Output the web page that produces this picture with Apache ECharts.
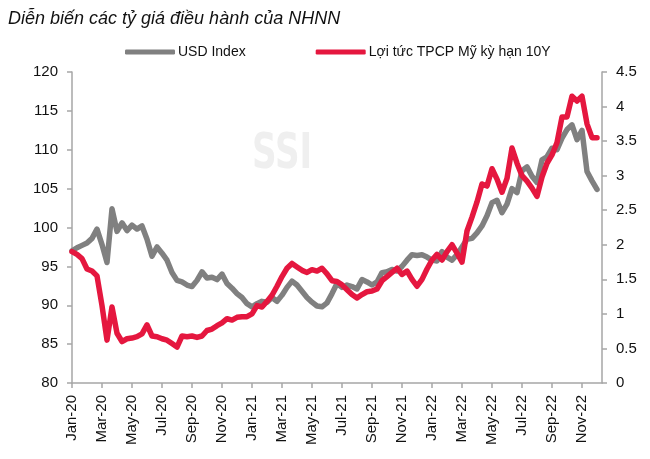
<!DOCTYPE html>
<html>
<head>
<meta charset="utf-8">
<script src="https://cdn.jsdelivr.net/npm/echarts@6/dist/echarts.min.js"></script>
<style>
html,body{margin:0;padding:0;background:#fff;}
#c{width:650px;height:459px;}
</style>
</head>
<body>
<div id="c"></div>
<script>
// Tick labels shown every 2 months
var tickLabels = ['Jan-20','Mar-20','May-20','Jul-20','Sep-20','Nov-20','Jan-21','Mar-21','May-21','Jul-21','Sep-21','Nov-21','Jan-22','Mar-22','May-22','Jul-22','Sep-22','Nov-22'];
// Categories: three observations per month (1st, 11th, 21st), Jan 2020 – Dec 2022
var categories = [];
(function(){
  var days = ['01','11','21'];
  for (var y = 2020; y <= 2022; y++) {
    for (var m = 1; m <= 12; m++) {
      for (var d = 0; d < 3; d++) {
        categories.push(y + '-' + (m < 10 ? '0' + m : m) + '-' + days[d]);
      }
    }
  }
  categories = categories.slice(0, 107);
})();

var usdIndex = [
  97.0, 97.4, 97.7, 98.0, 98.6, 99.8, 97.8, 95.5, 102.4, 99.5,
  100.6, 99.6, 100.3, 99.8, 100.2, 98.5, 96.3, 97.5, 96.7, 95.8,
  94.2, 93.2, 93.0, 92.6, 92.4, 93.2, 94.3, 93.5, 93.6, 93.3,
  94.0, 92.8, 92.2, 91.5, 91.0, 90.2, 89.8, 90.2, 90.5, 90.4,
  91.0, 90.5, 91.3, 92.3, 93.1, 92.6, 91.8, 91.0, 90.4, 89.9,
  89.8, 90.3, 91.5, 92.8, 92.3, 92.6, 92.4, 92.1, 93.3, 93.0,
  92.6, 93.0, 94.2, 94.3, 94.6, 94.4, 95.0, 95.8, 96.5, 96.4,
  96.5, 96.2, 95.8, 95.7, 96.9, 96.2, 95.8, 96.5, 97.5, 98.5,
  98.6, 99.3, 100.2, 101.5, 103.2, 103.5, 101.9, 103.0, 105.0, 104.5,
  107.3, 107.8, 106.6, 105.8, 108.7, 109.1, 110.2, 110.0, 111.5, 112.6,
  113.2, 111.3, 112.5, 107.2, 106.0, 104.9
];
var us10y = [
  1.90, 1.86, 1.80, 1.65, 1.62, 1.55, 1.12, 0.62, 1.10, 0.72,
  0.60, 0.64, 0.65, 0.67, 0.71, 0.84, 0.68, 0.67, 0.64, 0.62,
  0.57, 0.52, 0.68, 0.67, 0.68, 0.66, 0.68, 0.76, 0.78, 0.83,
  0.87, 0.93, 0.91, 0.95, 0.96, 0.96, 1.00, 1.12, 1.10, 1.18,
  1.27, 1.40, 1.54, 1.66, 1.73, 1.68, 1.63, 1.60, 1.64, 1.62,
  1.66, 1.58, 1.48, 1.47, 1.42, 1.35, 1.28, 1.23, 1.28, 1.32,
  1.33, 1.36, 1.48, 1.54, 1.60, 1.66, 1.57, 1.62, 1.50, 1.40,
  1.50, 1.65, 1.78, 1.86, 1.78, 1.90, 2.00, 1.88, 1.75, 2.20,
  2.40, 2.62, 2.88, 2.85, 3.10, 2.95, 2.76, 2.96, 3.40, 3.18,
  3.00, 2.92, 2.82, 2.70, 2.98, 3.18, 3.30, 3.48, 3.85, 3.85,
  4.15, 4.08, 4.15, 3.75, 3.55, 3.55
];

var axisGray = '#a6a6a6';
var txt = '#111111';
var fontFam = '"Liberation Sans", Arial, sans-serif';

var chart = echarts.init(document.getElementById('c'), null, {renderer: 'canvas'});
chart.setOption({
  animation: false,
  backgroundColor: '#ffffff',
  title: {
    text: 'Diễn biến các tỷ giá điều hành của NHNN',
    left: 3, top: 5,
    textStyle: {fontFamily: fontFam, fontStyle: 'italic', fontWeight: 'normal', fontSize: 18, color: txt}
  },
  graphic: [{
    type: 'text', left: 252, top: 130, z: 0, silent: true,
    style: {text: 'SSI', font: 'bold 50px "Liberation Sans Narrow", "DejaVu Sans Condensed", sans-serif', fill: '#efefef'},
    scaleX: 0.76
  }],
  legend: {
    left: 120, top: 40,
    icon: 'roundRect', itemWidth: 50, itemHeight: 5, itemGap: 70,
    textStyle: {fontFamily: fontFam, fontSize: 14, color: txt, padding: [0, 0, 0, -2]},
    data: ['USD Index', 'Lợi tức TPCP Mỹ kỳ hạn 10Y']
  },
  grid: {left: 72, right: 48, top: 72, bottom: 76, containLabel: false},
  xAxis: {
    type: 'category', boundaryGap: false, data: categories,
    axisLine: {lineStyle: {color: axisGray, width: 1.5}},
    axisTick: {show: true, length: 5, lineStyle: {color: axisGray, width: 1.5},
      interval: function(i){ return i % 6 === 0; }},
    axisLabel: {
      interval: function(i){ return i % 6 === 0; },
      rotate: 90, margin: 12, color: txt, fontFamily: fontFam, fontSize: 15,
      formatter: function(v, i){ return tickLabels[i / 6] || ''; }
    },
    splitLine: {show: false}
  },
  yAxis: [{
    type: 'value', min: 80, max: 120, interval: 5, position: 'left',
    axisLine: {show: true, lineStyle: {color: axisGray, width: 1.5}},
    axisTick: {show: true, length: 5, lineStyle: {color: axisGray, width: 1.5}},
    axisLabel: {margin: 14, color: txt, fontFamily: fontFam, fontSize: 15},
    splitLine: {show: false}
  }, {
    type: 'value', min: 0, max: 4.5, interval: 0.5, position: 'right',
    axisLine: {show: true, lineStyle: {color: axisGray, width: 1.5}},
    axisTick: {show: true, length: 5, lineStyle: {color: axisGray, width: 1.5}},
    axisLabel: {margin: 14, color: txt, fontFamily: fontFam, fontSize: 15},
    splitLine: {show: false}
  }],
  series: [{
    name: 'USD Index', type: 'line', yAxisIndex: 0, data: usdIndex,
    symbol: 'none', smooth: false,
    lineStyle: {color: '#808080', width: 5.5, cap: 'round', join: 'round'},
    itemStyle: {color: '#808080'}, z: 2
  }, {
    name: 'Lợi tức TPCP Mỹ kỳ hạn 10Y', type: 'line', yAxisIndex: 1, data: us10y,
    symbol: 'none', smooth: false,
    lineStyle: {color: '#e5173f', width: 5.5, cap: 'round', join: 'round'},
    itemStyle: {color: '#e5173f'}, z: 3
  }]
});
</script>
</body>
</html>
